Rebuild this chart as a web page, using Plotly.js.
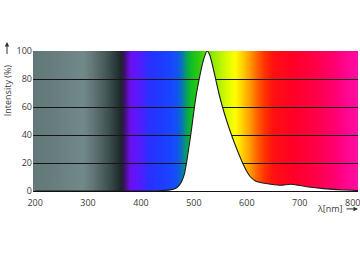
<!DOCTYPE html>
<html>
<head>
<meta charset="utf-8">
<script src="https://cdn.plot.ly/plotly-3.0.1.min.js"></script>
<style>html,body{margin:0;padding:0;background:#fff;}#chart{width:360px;height:262px;}</style>
</head>
<body>
<div id="chart"></div>
<script>
// Emission spectrum
var wavelength = [200, 380, 420, 440, 455, 465, 472, 477, 482, 486, 490, 494, 497.5, 501, 505, 510, 515, 520, 525, 530, 535, 541, 547, 554, 562, 571, 581, 592, 600, 607, 617, 630, 645, 664, 683, 698, 717, 745, 770, 800, 810];
var intensity  = [0,   0,   0,   0.3, 0.8, 1.8, 4,   7,   12,  20,  30,  40,  50,   60,  70,  80,  89,  96,  100, 97,  90,  80,  70,  60,  50,  40,  30,  20,  14,  10,  7,   5.7, 4.8, 4.1, 4.8, 4.1, 2.9, 1.7, 1,   0.5, 0.3];

var xTickVals = [200, 300, 400, 500, 600, 700, 800];
var yTickVals = [0, 20, 40, 60, 80, 100];

// Background spectrum colour stops (wavelength, colour)
var bgStopNm = [196, 230, 290, 310, 335, 355, 362, 368, 380, 395, 415, 440, 460, 470, 478, 486, 495, 510, 530, 550, 565, 578, 592, 605, 620, 635, 650, 690, 730, 765, 795, 810];
var bgStopColor = ['#637878','#677c7d','#72898a','#627677','#435656','#263636','#1c2828','#3a1260','#6a10ee','#5a18ff','#2a30ff','#1e3cff','#1848ff','#1058e8','#0878b0','#08a060','#10be20','#30cc10','#80e400','#b8f400','#e0fc00','#ffff00','#ffd000','#ffa000','#ff6000','#ff3000','#ff1010','#ff0028','#ff0048','#ff0070','#ff0898','#ff10a0'];

var xMin = 196, xMax = 810;

var cv = document.createElement('canvas');
cv.width = xMax - xMin; cv.height = 4;
var ctx = cv.getContext('2d');
var grad = ctx.createLinearGradient(0, 0, cv.width, 0);
for (var i = 0; i < bgStopNm.length; i++) {
  grad.addColorStop(Math.min(1, Math.max(0, (bgStopNm[i] - xMin) / (xMax - xMin))), bgStopColor[i]);
}
ctx.fillStyle = grad;
ctx.fillRect(0, 0, cv.width, cv.height);
var bgUrl = cv.toDataURL('image/png');

var fontFam = '"Open Sans", "Liberation Sans", sans-serif';

var trace = {
  x: wavelength, y: intensity, type: 'scatter', mode: 'lines',
  line: {color: '#1a1a1a', width: 1.1, shape: 'spline', smoothing: 0.6},
  fill: 'tozeroy', fillcolor: '#ffffff', hoverinfo: 'skip'
};

var layout = {
  width: 360, height: 262,
  margin: {l: 33, r: 2, t: 51, b: 71},
  paper_bgcolor: '#ffffff', plot_bgcolor: '#ffffff',
  showlegend: false,
  font: {family: fontFam, size: 9, color: '#3a3a3a'},
  xaxis: {
    range: [xMin, xMax], tickvals: xTickVals, ticktext: xTickVals.map(String),
    showgrid: false, zeroline: false, showline: true, linecolor: '#111', linewidth: 1,
    ticks: '', ticklabeloverflow: 'allow', ticklabelstandoff: 3,
    tickfont: {family: fontFam, size: 9, color: '#3a3a3a'}, fixedrange: true
  },
  yaxis: {
    range: [0, 100], tickvals: yTickVals, ticktext: yTickVals.map(String),
    showgrid: true, gridcolor: '#151515', gridwidth: 1, zeroline: false, showline: false,
    ticks: '', tickfont: {family: fontFam, size: 9, color: '#3a3a3a'}, fixedrange: true
  },
  images: [{
    source: bgUrl, xref: 'x', yref: 'y', x: xMin, y: 100, sizex: xMax - xMin, sizey: 100,
    xanchor: 'left', yanchor: 'top', sizing: 'stretch', layer: 'below'
  }],
  annotations: [
    {text: 'Intensity (%)', xref: 'paper', yref: 'paper', x: -0.08, y: 0.72, textangle: -90,
     showarrow: false, font: {family: fontFam, size: 9, color: '#3a3a3a'}, xanchor: 'center', yanchor: 'middle'},
    {text: ' ', xref: 'paper', yref: 'paper', x: -0.08, y: 1.064, ax: 0, ay: 20,
     showarrow: true, arrowhead: 2, arrowsize: 0.9, arrowwidth: 1, arrowcolor: '#333'},
    {text: 'λ[nm]', xref: 'paper', yref: 'paper', x: 0.914, y: -0.128,
     showarrow: false, font: {family: fontFam, size: 9, color: '#3a3a3a'}, xanchor: 'center', yanchor: 'middle'},
    {text: ' ', xref: 'paper', yref: 'paper', x: 1.0, y: -0.128, ax: -14, ay: 0,
     showarrow: true, arrowhead: 2, arrowsize: 0.9, arrowwidth: 1, arrowcolor: '#333'}
  ]
};

Plotly.newPlot('chart', [trace], layout, {staticPlot: true, displayModeBar: false});
</script>
</body>
</html>
